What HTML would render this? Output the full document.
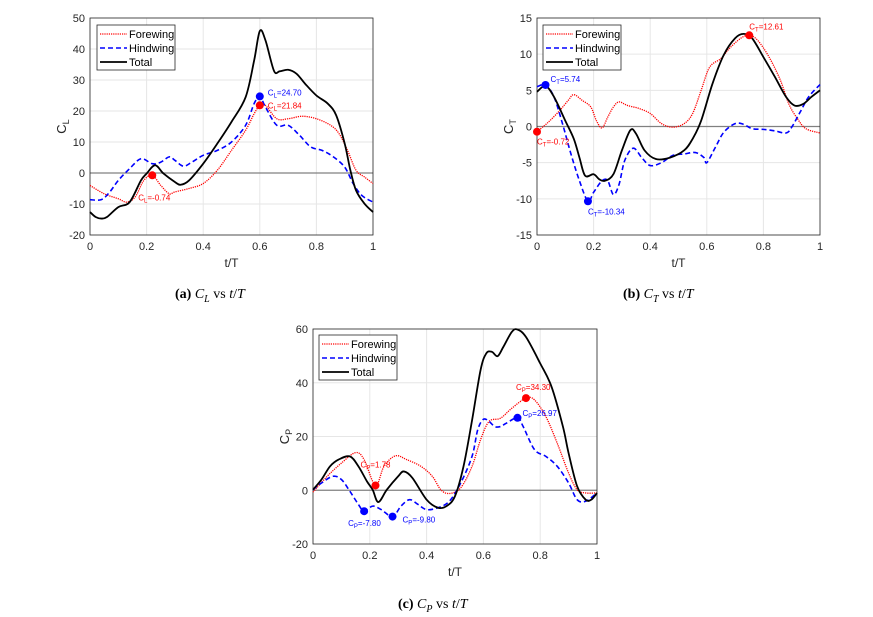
<!DOCTYPE html>
<html><head><meta charset="utf-8">
<style>
body{margin:0;background:#fff;width:873px;height:617px;overflow:hidden}
svg{position:absolute;left:0;top:0}
.cap{position:absolute;font-family:"Liberation Serif",serif;font-size:14px;color:#000;white-space:nowrap}
.cap b{font-weight:bold}
.cap i{font-style:italic}
</style></head>
<body>
<svg id="svg" width="873" height="617"></svg>
<div class="cap" style="left:175px;top:287px"><b>(a)</b> <i>C<sub style="font-size:10px">L</sub></i> vs <i>t</i>/<i>T</i></div>
<div class="cap" style="left:623px;top:287px"><b>(b)</b> <i>C<sub style="font-size:10px">T</sub></i> vs <i>t</i>/<i>T</i></div>
<div class="cap" style="left:398px;top:597px"><b>(c)</b> <i>C<sub style="font-size:10px">P</sub></i> vs <i>t</i>/<i>T</i></div>
<script>
// ---- Chart (a) C_L ----
const aTotalT=[0,0.02,0.04,0.06,0.1,0.14,0.18,0.2,0.23,0.26,0.3,0.32,0.35,0.4,0.45,0.5,0.55,0.58,0.6,0.62,0.65,0.67,0.7,0.73,0.76,0.8,0.84,0.87,0.9,0.92,0.94,0.97,1];
const aTotalV=[-12.6,-14.2,-14.7,-14.2,-11,-9.4,-2.4,-0.2,2.5,-0.2,-2.9,-3.8,-2.4,3,9.5,16.5,24.5,36.3,45.8,42.8,33,32.8,33.3,32,28.8,25,22.4,18.6,9.5,0.9,-5.6,-9.9,-12.6];
const aForeT=[0,0.05,0.1,0.13,0.16,0.19,0.22,0.25,0.28,0.3,0.35,0.4,0.45,0.5,0.55,0.58,0.6,0.62,0.66,0.7,0.75,0.8,0.85,0.88,0.91,0.94,0.97,1];
const aForeV=[-4,-6.7,-8.3,-9.4,-7.7,-2.4,-0.74,-4,-6.7,-6.1,-5,-3.4,0.9,7.3,13.8,19.1,21.84,21.8,17.5,17.5,18.3,17.5,15.4,12.7,7.3,0.9,-1.3,-3.4];
const aHindT=[0,0.04,0.07,0.1,0.14,0.18,0.22,0.25,0.28,0.3,0.33,0.36,0.4,0.45,0.5,0.55,0.58,0.6,0.62,0.66,0.7,0.74,0.78,0.82,0.86,0.9,0.93,0.96,1];
const aHindV=[-8.6,-8.6,-6.1,-2.4,1.4,4.6,3,3.5,5.2,4.1,2.2,3.5,5.7,7.3,10,15.4,22.4,24.7,21.3,15.4,15.4,12.2,8.4,7.3,5.2,1.9,-3.4,-7.2,-9.4];
const aMarkT=[0.6,0.6,0.22];
const aMarkV=[24.70,21.84,-0.74];
const aMarkLabels=["24.70","21.84","-0.74"];
const aYTicks=[-20,-10,0,10,20,30,40,50];
// ---- Chart (b) C_T ----
const bTotalT=[0,0.03,0.06,0.1,0.13,0.15,0.17,0.2,0.22,0.24,0.27,0.3,0.33,0.35,0.38,0.42,0.47,0.52,0.55,0.58,0.62,0.66,0.7,0.73,0.76,0.8,0.84,0.88,0.91,0.94,0.97,1];
const bTotalV=[4.8,5.6,4.1,0.8,-1.7,-4.3,-6.8,-6.6,-7.3,-7.5,-6.6,-3.3,-0.5,-1,-3.3,-4.5,-4.3,-3.3,-1.7,0.8,5.9,9.9,12.2,12.8,12.2,9.6,6.9,4.1,2.9,3.1,4.1,5];
const bForeT=[0,0.04,0.08,0.11,0.13,0.16,0.19,0.21,0.23,0.25,0.27,0.29,0.32,0.36,0.4,0.44,0.48,0.52,0.55,0.58,0.61,0.65,0.68,0.72,0.75,0.78,0.82,0.86,0.89,0.92,0.95,1];
const bForeV=[-0.72,0.6,2.2,3.6,4.4,3.6,2.7,0.8,-0.2,1.3,2.7,3.4,2.9,2.5,1.8,0.4,-0.1,0.4,1.8,5,8.2,9.4,10.8,12.2,12.61,11.9,9.6,6.4,3.1,1.1,-0.3,-0.9];
const bHindT=[0,0.03,0.06,0.09,0.12,0.15,0.18,0.2,0.23,0.25,0.27,0.29,0.31,0.34,0.37,0.4,0.44,0.48,0.52,0.56,0.59,0.6,0.63,0.66,0.7,0.73,0.76,0.8,0.84,0.88,0.9,0.93,0.96,1];
const bHindV=[5.5,5.74,4.1,0.4,-3.8,-7.5,-10.34,-9.1,-7.5,-7.5,-9.4,-8,-4.7,-3,-4.3,-5.4,-5,-4,-3.8,-3.6,-4.3,-5,-2.9,-0.8,0.4,0.3,-0.3,-0.4,-0.6,-0.9,-0.1,2,4.1,5.8];
const bMarkT=[0,0.03,0.18,0.75];
const bMarkV=[-0.72,5.74,-10.34,12.61];
const bMarkLabels=["-0.72","5.74","-10.34","12.61"];
const bYTicks=[-15,-10,-5,0,5,10,15];
// ---- Chart (c) C_P ----
const cTotalT=[0,0.03,0.06,0.09,0.13,0.16,0.19,0.21,0.23,0.26,0.3,0.32,0.35,0.4,0.44,0.47,0.5,0.53,0.56,0.59,0.61,0.63,0.65,0.67,0.7,0.72,0.75,0.8,0.84,0.88,0.9,0.93,0.96,0.98,1];
const cTotalV=[0.2,4,8.9,11.4,12.6,8.9,3.3,0.2,-4.4,0.2,5.2,7,4.6,-3.5,-6.5,-5.9,-2.2,8.9,26,44.7,50.9,51.5,49.9,53.3,58.9,59.8,57,47.2,38.5,23.7,13.8,1.5,-3.5,-3.5,-1];
const cForeT=[0,0.05,0.1,0.15,0.18,0.22,0.25,0.29,0.33,0.38,0.42,0.45,0.48,0.52,0.56,0.59,0.62,0.66,0.7,0.75,0.78,0.82,0.86,0.9,0.93,0.96,1];
const cForeV=[-0.7,5.2,10.1,14,11.4,1.78,8.9,12.8,11.4,8.9,5.2,0.2,-1.2,0.9,8.9,18.8,25.6,26.8,30.5,34.3,33.6,27.4,17.5,6.4,0.2,-1,-1];
const cHindT=[0,0.03,0.07,0.1,0.13,0.16,0.18,0.21,0.24,0.28,0.31,0.34,0.37,0.4,0.44,0.48,0.52,0.56,0.58,0.6,0.62,0.64,0.66,0.68,0.72,0.74,0.78,0.82,0.86,0.9,0.93,0.96,1];
const cHindV=[0.2,2.7,5.2,4,-0.4,-5.3,-7.8,-5.9,-7.2,-9.8,-5.9,-3.5,-5.3,-7.2,-6.5,-4.1,2.7,12.6,22.5,26.4,25.6,23.7,23.7,24.9,26.97,23.7,15.1,12.6,8.9,2.7,-3.5,-4.1,-1];
const cMarkT=[0.22,0.18,0.28,0.75,0.72];
const cMarkV=[1.78,-7.80,-9.80,34.30,26.97];
const cMarkLabels=["1.78","-7.80","-9.80","34.30","26.97"];
const cYTicks=[-20,0,20,40,60];
const xTicks=[0,0.2,0.4,0.6,0.8,1];
const xTickLabels=["0","0.2","0.4","0.6","0.8","1"];

const NS="http://www.w3.org/2000/svg";
const svg=document.getElementById('svg');
function mk(tag,attrs,parent){const e=document.createElementNS(NS,tag);for(const k in attrs)e.setAttribute(k,attrs[k]);(parent||svg).appendChild(e);return e;}
function smooth(pts){let d='M'+pts[0][0].toFixed(2)+','+pts[0][1].toFixed(2);for(let i=0;i<pts.length-1;i++){const p0=pts[Math.max(0,i-1)],p1=pts[i],p2=pts[i+1],p3=pts[Math.min(pts.length-1,i+2)];const c1=[p1[0]+(p2[0]-p0[0])/6,p1[1]+(p2[1]-p0[1])/6],c2=[p2[0]-(p3[0]-p1[0])/6,p2[1]-(p3[1]-p1[1])/6];d+='C'+c1[0].toFixed(2)+','+c1[1].toFixed(2)+' '+c2[0].toFixed(2)+','+c2[1].toFixed(2)+' '+p2[0].toFixed(2)+','+p2[1].toFixed(2);}return d;}

function chart(cfg){
  const g=mk('g',{});
  
  
  const X=t=>cfg.x0+(cfg.x1-cfg.x0)*t;
  const Y=v=>cfg.y1-(cfg.y1-cfg.y0)*(v-cfg.ymin)/(cfg.ymax-cfg.ymin);
  // grid
  xTicks.forEach((t,i)=>{
    const l=mk('line',{x1:X(t),x2:X(t),y1:cfg.y0,y2:cfg.y1,stroke:'#e6e6e6','stroke-width':1},g);
    
    
    const tx=mk('text',{x:X(t),y:cfg.y1+15,'text-anchor':'middle','font-family':'Liberation Sans, sans-serif','font-size':11,fill:'#262626'},g);
    tx.textContent=xTickLabels[i];
    
    
  });
  cfg.yt.forEach(v=>{
    const l=mk('line',{x1:cfg.x0,x2:cfg.x1,y1:Y(v),y2:Y(v),stroke:v===0?'#808080':'#e6e6e6','stroke-width':v===0?1.3:1},g);
    
    
    const tx=mk('text',{x:cfg.x0-5,y:Y(v)+4,'text-anchor':'end','font-family':'Liberation Sans, sans-serif','font-size':11,fill:'#262626'},g);
    tx.textContent=String(v);
    
    
  });
  const box=mk('rect',{x:cfg.x0,y:cfg.y0,width:cfg.x1-cfg.x0,height:cfg.y1-cfg.y0,fill:'none',stroke:'#262626','stroke-width':0.8},g);
  
  
  const xl=mk('text',{x:(cfg.x0+cfg.x1)/2,y:cfg.y1+32,'text-anchor':'middle','font-family':'Liberation Sans, sans-serif','font-size':12,fill:'#262626'},g);
  xl.textContent='t/T';
  
  
  const yl=mk('text',{transform:`translate(${cfg.x0-24},${(cfg.y0+cfg.y1)/2}) rotate(-90)`,'text-anchor':'middle','font-family':'Liberation Sans, sans-serif','font-size':13,fill:'#262626'},g);
  yl.innerHTML='C<tspan font-size="9" dy="3">'+cfg.sub+'</tspan>';
  
  
  const series=[[cfg.fT,cfg.fV,'#ff0000','1.3','1.2 1','forewing-line'],[cfg.hT,cfg.hV,'#0000ff','1.6','5 3','hindwing-line'],[cfg.tT,cfg.tV,'#000000','1.8','','total-line']];
  series.forEach(s=>{
    const p=mk('path',{d:smooth(s[0].map((t,i)=>[X(t),Y(s[1][i])])),fill:'none',stroke:s[2],'stroke-width':s[3],'stroke-dasharray':s[4]},g);
    
    
  });
  cfg.mT.forEach((t,i)=>{
    const c=mk('circle',{cx:X(t),cy:Y(cfg.mV[i]),r:4,fill:cfg.mC[i]},g);
    
    
    const o=cfg.mO[i];
    const tx=mk('text',{x:X(t)+o[0],y:Y(cfg.mV[i])+o[1],'text-anchor':o[2]||'start','font-family':'Liberation Sans, sans-serif','font-size':8,fill:cfg.mC[i]},g);
    tx.innerHTML='C<tspan font-size="6" dy="2">'+cfg.sub+'</tspan><tspan dy="-2">='+cfg.mL[i]+'</tspan>';
    
    
  });
  // legend
  const lx=cfg.lx,ly=cfg.ly;
  const lg=mk('g',{},g);
  
  
  mk('rect',{x:lx,y:ly,width:78,height:45,fill:'#fff',stroke:'#262626','stroke-width':0.8},lg);
  [['Forewing','#ff0000','1.3','1.2 1'],['Hindwing','#0000ff','1.6','5 3'],['Total','#000','1.8','']].forEach((e,i)=>{
    const yy=ly+9+i*14;
    const l=mk('line',{x1:lx+3,x2:lx+30,y1:yy,y2:yy,stroke:e[1],'stroke-width':e[2],'stroke-dasharray':e[3]},lg);
    
    
    const tx=mk('text',{x:lx+32,y:yy+4,'font-family':'Liberation Sans, sans-serif','font-size':11,fill:'#000'},lg);
    tx.textContent=e[0];
    
    
  });
}
chart({name:'chart-cl',x0:90,x1:373,y0:18,y1:235,ymin:-20,ymax:50,yt:aYTicks,sub:'L',
  tT:aTotalT,tV:aTotalV,fT:aForeT,fV:aForeV,hT:aHindT,hV:aHindV,
  mT:aMarkT,mV:aMarkV,mL:aMarkLabels,mC:['#0000ff','#ff0000','#ff0000'],mO:[[8,-1],[8,3],[-14,25]],lx:97,ly:25});
chart({name:'chart-ct',x0:537,x1:820,y0:18,y1:235,ymin:-15,ymax:15,yt:bYTicks,sub:'T',
  tT:bTotalT,tV:bTotalV,fT:bForeT,fV:bForeV,hT:bHindT,hV:bHindV,
  mT:bMarkT,mV:bMarkV,mL:bMarkLabels,mC:['#ff0000','#0000ff','#0000ff','#ff0000'],mO:[[0,13],[5,-3],[0,13],[0,-6]],lx:543,ly:25});
chart({name:'chart-cp',x0:313,x1:597,y0:329,y1:544,ymin:-20,ymax:60,yt:cYTicks,sub:'P',
  tT:cTotalT,tV:cTotalV,fT:cForeT,fV:cForeV,hT:cHindT,hV:cHindV,
  mT:cMarkT,mV:cMarkV,mL:cMarkLabels,mC:['#ff0000','#0000ff','#0000ff','#ff0000','#0000ff'],mO:[[-15,-18],[-16,15],[10,6],[-10,-8],[5,-2]],lx:319,ly:335});
</script>
</body></html>
